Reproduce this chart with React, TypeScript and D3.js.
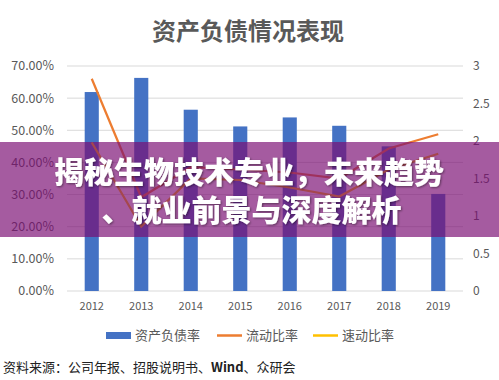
import React from "react";
import * as d3 from "d3";

const years = ["2012", "2013", "2014", "2015", "2016", "2017", "2018", "2019"];
const debtRatio = [61.9, 66.3, 56.4, 51.2, 54.0, 51.4, 45.0, 30.2];
const currentRatio = [2.83, 1.25, 1.65, 1.62, 1.58, 1.5, 1.9, 2.09];
const quickRatio = [1.98, 0.86, 1.5, 1.48, 1.38, 1.26, 1.62, 1.83];
const leftTicks = [0, 10, 20, 30, 40, 50, 60, 70];
const rightTicks = [0, 0.5, 1, 1.5, 2, 2.5, 3];
const legendItems = ["资产负债率", "流动比率", "速动比率"];
const title = "资产负债情况表现";
const sourceParts = ["资料来源：公司年报、招股说明书、", "Wind", "、众研会"];
const bannerLines = ["揭秘生物技术专业，未来趋势", "、就业前景与深度解析"];

const W = 499;
const H = 380;
const plot = { left: 67, right: 463, top: 66, bottom: 291 };
const CJK = '"Noto Sans CJK SC", "Noto Sans", sans-serif';
const GREY = "#595959";
const BLUE = "#4472C4";
const ORANGE = "#ED7D31";
const YELLOW = "#FFC000";

export default function App() {
  const x = d3.scaleBand<string>().domain(years).range([plot.left, plot.right]).paddingInner(0.715).paddingOuter(0.3575);
  const yL = d3.scaleLinear().domain([0, 70]).range([plot.bottom, plot.top]);
  const yR = d3.scaleLinear().domain([0, 3]).range([plot.bottom, plot.top]);
  const cx = (d: string) => (x(d) as number) + x.bandwidth() / 2;
  const line = d3
    .line<number>()
    .x((_, i) => cx(years[i]))
    .y((v) => yR(v));

  const legendX = [106, 217, 313];

  return (
    <svg
      width={W}
      height={H}
      viewBox={`0 0 ${W} ${H}`}
      style={{ position: "absolute", left: 0, top: 0, background: "#fff" }}
      fontFamily={CJK}
    >
      <rect x={0} y={0} width={W} height={H} fill="#fff" />
      <text x={248} y={40} textAnchor="middle" fontSize={24} fontWeight="bold" fill={GREY}>
        {title}
      </text>

      {leftTicks.map((t) => (
        <g key={"l" + t}>
          <line x1={plot.left} x2={plot.right} y1={yL(t)} y2={yL(t)} stroke="#D9D9D9" strokeWidth={1} />
          <text x={54} y={yL(t)} dy="0.35em" textAnchor="end" fontSize={12.5} fill={GREY}>
            {d3.format(".2f")(t) + "%"}
          </text>
        </g>
      ))}
      {rightTicks.map((t) => (
        <text key={"r" + t} x={473} y={yR(t)} dy="0.35em" textAnchor="start" fontSize={12} fill={GREY}>
          {String(t)}
        </text>
      ))}

      {years.map((yr, i) => (
        <rect
          key={"b" + yr}
          x={x(yr)}
          y={yL(debtRatio[i])}
          width={x.bandwidth()}
          height={yL(0) - yL(debtRatio[i])}
          fill={BLUE}
        />
      ))}

      <path d={line(quickRatio) || ""} fill="none" stroke={YELLOW} strokeWidth={2.25} />
      <path d={line(currentRatio) || ""} fill="none" stroke={ORANGE} strokeWidth={2.25} />

      {years.map((yr) => (
        <text key={"x" + yr} x={cx(yr)} y={310} textAnchor="middle" fontSize={11} fill={GREY}>
          {yr}
        </text>
      ))}

      {legendItems.map((name, i) => (
        <g key={"lg" + name}>
          {i === 0 ? (
            <rect x={legendX[i]} y={332} width={25} height={7} fill={BLUE} />
          ) : (
            <line x1={legendX[i]} x2={legendX[i] + 25} y1={335.5} y2={335.5} stroke={i === 1 ? ORANGE : YELLOW} strokeWidth={2.5} />
          )}
          <text x={legendX[i] + 29} y={340} fontSize={13} fill={GREY}>
            {name}
          </text>
        </g>
      ))}

      <text x={3} y={372} fontSize={13} fill="#222">
        <tspan>{sourceParts[0]}</tspan>
        <tspan fontWeight="bold">{sourceParts[1]}</tspan>
        <tspan>{sourceParts[2]}</tspan>
      </text>

      <rect x={0} y={142} width={W} height={95} fill="rgb(123,14,115)" fillOpacity={0.68} />
      <defs>
        <filter id="sh" x="-10%" y="-30%" width="120%" height="160%">
          <feDropShadow dx="1" dy="1" stdDeviation="1" floodColor="#000" floodOpacity="0.45" />
        </filter>
      </defs>
      {bannerLines.map((t, i) => (
        <text
          key={"bn" + i}
          x={i === 0 ? 249 : 251.5}
          y={i === 0 ? 183 : 221}
          textAnchor="middle"
          fontSize={30}
          fontWeight={900}
          fill="#fff"
          filter="url(#sh)"
        >
          {t}
        </text>
      ))}
    </svg>
  );
}
